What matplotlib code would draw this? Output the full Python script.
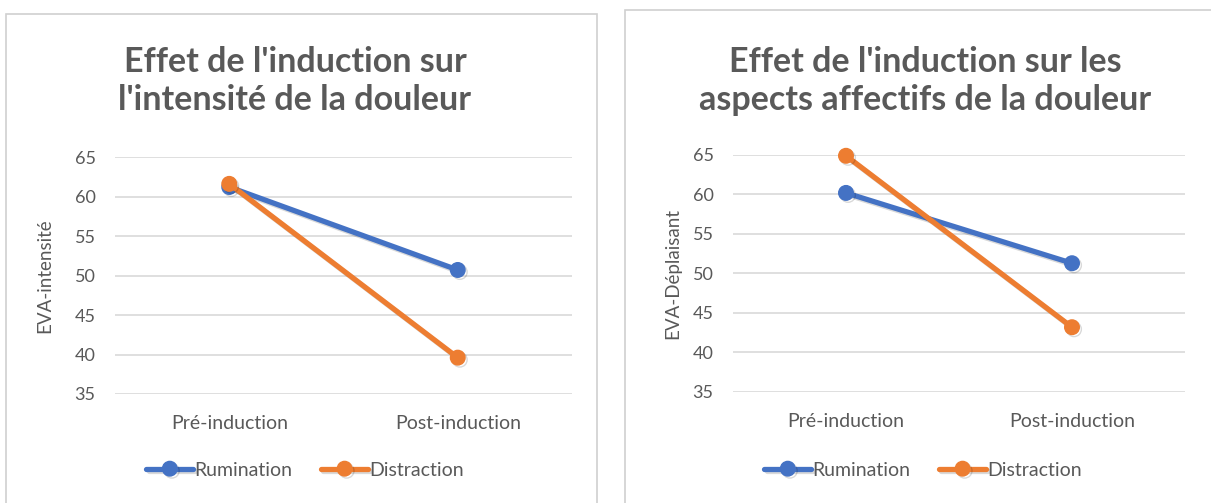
import matplotlib
matplotlib.use("Agg")
import matplotlib.pyplot as plt
import matplotlib.patheffects as pe
from matplotlib.patches import Rectangle

plt.rcParams['font.family'] = ['Lato', 'DejaVu Sans']

# data
categories = ["Pré-induction", "Post-induction"]
series_names = ["Rumination", "Distraction"]

intensite_rumination = [61.2, 50.7]
intensite_distraction = [61.6, 39.6]

deplaisant_rumination = [60.2, 51.3]
deplaisant_distraction = [64.9, 43.2]

titles = ["Effet de l'induction sur\nl'intensité de la douleur",
          "Effet de l'induction sur les\naspects affectifs de la douleur"]
ylabels = ["EVA-intensité", "EVA-Déplaisant"]
yticks = [35, 40, 45, 50, 55, 60, 65]

BLUE = "#4472C4"
ORANGE = "#ED7D31"
GRAY = "#595959"
GRID = "#d9d9d9"

W, H = 1211, 503
fig = plt.figure(figsize=(W / 100, H / 100), dpi=100)

# chart borders (pixel boxes)
fig.patches.append(Rectangle((6 / W, -0.1), 591 / W, 1.1 - 14 / H, transform=fig.transFigure,
                             fill=False, edgecolor="#d0d0d0", lw=1.2))
fig.patches.append(Rectangle((625 / W, -0.1), 700 / W, 1.1 - 10 / H, transform=fig.transFigure,
                             fill=False, edgecolor="#d0d0d0", lw=1.2))


def draw_chart(rect, rum, dis, title, ylabel, title_x, ylabel_x, legend_x):
    ax = fig.add_axes(rect)
    x = range(len(categories))
    shadow = [pe.SimpleLineShadow(offset=(1.5, -1.5), alpha=0.15, shadow_color="black"), pe.Normal()]
    for vals, col, name in [(rum, BLUE, series_names[0]), (dis, ORANGE, series_names[1])]:
        ax.plot(x, vals, color=col, lw=3.8, marker="o", markersize=10.5, label=name,
                clip_on=False, path_effects=shadow, solid_capstyle="round")
    ax.set_xlim(-0.5, 1.5)
    ax.set_ylim(35, 65)
    ax.set_yticks(yticks)
    ax.set_xticks(list(x))
    ax.set_xticklabels(categories)
    ax.tick_params(length=0, colors=GRAY)
    ax.tick_params(axis="y", labelsize=13, pad=14)
    ax.tick_params(axis="x", labelsize=14, pad=15)
    ax.grid(axis="y", color=GRID, lw=1.2)
    ax.set_axisbelow(True)
    for s in ax.spines.values():
        s.set_visible(False)
    fig.text(ylabel_x, rect[1] + rect[3] / 2, ylabel, rotation=90, ha="center", va="center",
             fontsize=13.5, color=GRAY)
    fig.text(title_x, 1 - 81 / H, title, ha="center", va="center", fontsize=24.5, fontweight="bold",
             color=GRAY, linespacing=1.25)
    leg = ax.legend(loc="center", bbox_to_anchor=(legend_x, 1 - 470 / H), bbox_transform=fig.transFigure,
                    ncol=2, frameon=False, fontsize=14, handlelength=2.4, columnspacing=1.5,
                    handletextpad=0.05)
    for t in leg.get_texts():
        t.set_color(GRAY)
    return ax


draw_chart([115 / W, 1 - 394 / H, 457 / W, 237 / H], intensite_rumination, intensite_distraction,
           titles[0], ylabels[0], 295 / W, 45 / W, 305 / W)
draw_chart([733 / W, 1 - 392 / H, 452 / W, 237 / H], deplaisant_rumination, deplaisant_distraction,
           titles[1], ylabels[1], 925 / W, 673 / W, 923 / W)

fig.savefig("out.png", dpi=100)
